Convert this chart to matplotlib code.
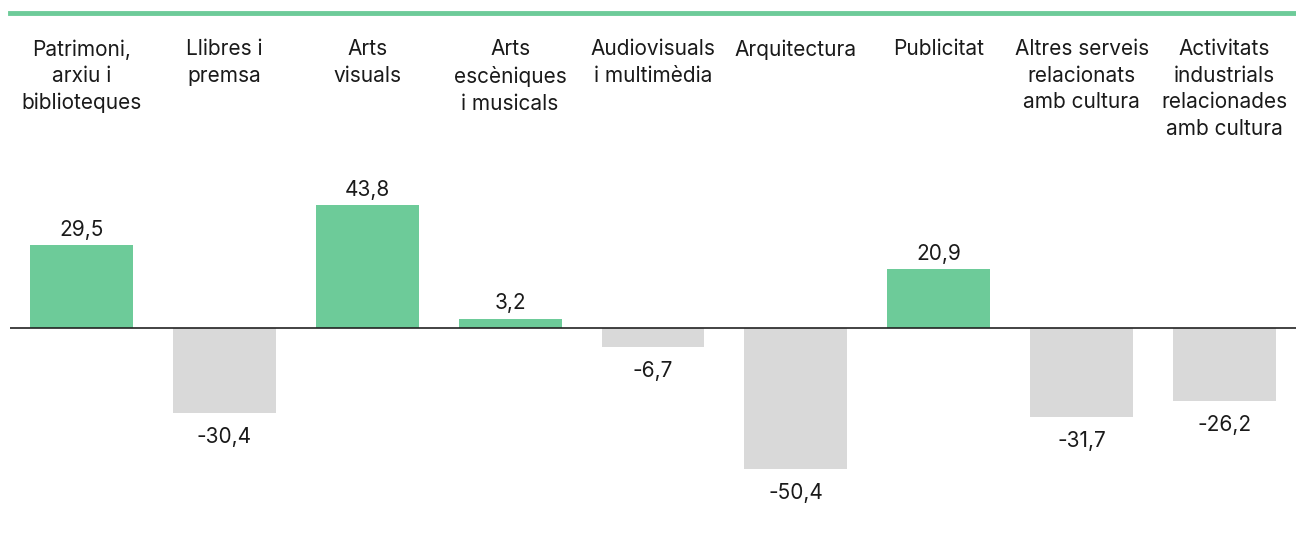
import matplotlib.pyplot as plt
from matplotlib.transforms import blended_transform_factory

plt.rcParams['font.family'] = ['Inter', 'DejaVu Sans']

categories = ['Patrimoni,\narxiu i\nbiblioteques', 'Llibres i\npremsa', 'Arts\nvisuals',
              'Arts\nescèniques\ni musicals', 'Audiovisuals\ni multimèdia', 'Arquitectura',
              'Publicitat', 'Altres serveis\nrelacionats\namb cultura',
              'Activitats\nindustrials\nrelacionades\namb cultura']
values = [29.5, -30.4, 43.8, 3.2, -6.7, -50.4, 20.9, -31.7, -26.2]
labels = ['29,5', '-30,4', '43,8', '3,2', '-6,7', '-50,4', '20,9', '-31,7', '-26,2']

green = '#6dcb99'
grey = '#d9d9d9'

fig = plt.figure(figsize=(12.96, 5.36), dpi=100)
# axes from x=10px to 1296px, y from 536px (bottom) to 140px (top)
ax = fig.add_axes([10 / 1296, 0, 1286 / 1296, 396 / 536])
x = list(range(len(values)))
colors = [green if v >= 0 else grey for v in values]
ax.bar(x, values, width=0.72, color=colors, zorder=2)
ax.axhline(0, color='#222222', lw=1.2, zorder=3)
ax.set_xlim(-0.5, len(values) - 0.5)
ax.set_ylim(-74.3, 67.1)
ax.axis('off')

for xi, v, lab in zip(x, values, labels):
    if v >= 0:
        ax.annotate(lab, (xi, v), xytext=(0, 4), textcoords='offset points',
                    ha='center', va='bottom', fontsize=15, color='#1a1a1a')
    else:
        ax.annotate(lab, (xi, v), xytext=(0, -10), textcoords='offset points',
                    ha='center', va='top', fontsize=15, color='#1a1a1a')

tr = blended_transform_factory(ax.transData, fig.transFigure)
for xi, c in zip(x, categories):
    ax.text(xi, 1 - 39 / 536, c, transform=tr, ha='center', va='top',
            fontsize=15, color='#1a1a1a', linespacing=1.41)

# green rule at the top
fig.add_artist(plt.Line2D([10 / 1296, 1], [1 - 13 / 536] * 2, color=green, lw=3.5,
                          transform=fig.transFigure))

fig.savefig('out.png', dpi=100)
